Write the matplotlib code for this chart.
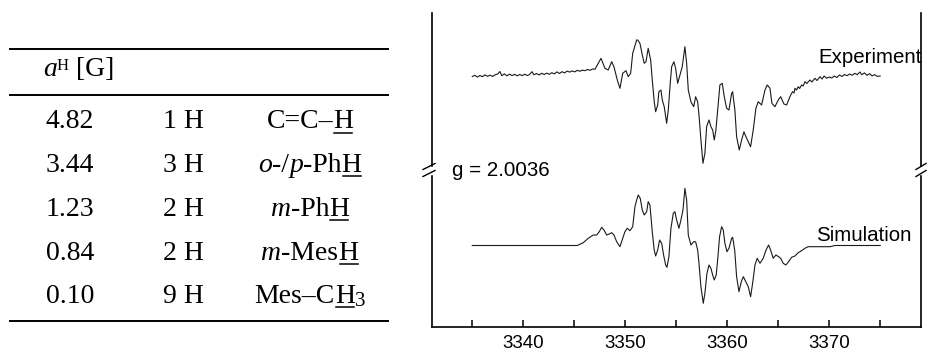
import matplotlib
matplotlib.use("Agg")
import matplotlib.pyplot as plt
from matplotlib.lines import Line2D
from matplotlib.patches import Rectangle
from matplotlib.transforms import IdentityTransform

# hyperfine table
a_values = ["4.82", "3.44", "1.23", "0.84", "0.10"]
n_protons = ["1 H", "3 H", "2 H", "2 H", "9 H"]

# EPR spectra, field in G, intensity in arbitrary units
exp_field = [3335.0, 3335.25, 3335.5, 3335.75, 3336.0, 3336.25, 3336.5, 3336.75, 3337.0, 3337.25,
             3337.5, 3337.7, 3337.9, 3338.15, 3338.4, 3338.65, 3338.9, 3339.15, 3339.4, 3339.65,
             3339.9, 3340.15, 3340.4, 3340.6, 3340.85, 3341.05, 3341.3, 3341.55, 3341.8, 3342.05,
             3342.3, 3342.55, 3342.8, 3343.05, 3343.3, 3343.55, 3343.8, 3344.05, 3344.3, 3344.55,
             3344.8, 3345.05, 3345.3, 3345.55, 3345.8, 3346.05, 3346.3, 3346.55, 3346.8, 3347.03,
             3347.62, 3348.01, 3348.33, 3348.67, 3348.89, 3349.22, 3349.48, 3349.75, 3350.07, 3350.29,
             3350.53, 3350.73, 3351.12, 3351.22, 3351.44, 3351.67, 3351.86, 3352.03, 3352.25, 3352.49,
             3352.65, 3352.84, 3352.98, 3353.18, 3353.30, 3353.50, 3353.63, 3353.82, 3354.06, 3354.22,
             3354.41, 3354.55, 3354.77, 3354.94, 3355.14, 3355.36, 3355.59, 3355.85, 3356.02, 3356.18,
             3356.44, 3356.71, 3356.90, 3357.10, 3357.23, 3357.42, 3357.62, 3357.81, 3357.98, 3358.21,
             3358.40, 3358.57, 3358.73, 3358.89, 3359.06, 3359.28, 3359.51, 3359.71, 3359.94, 3360.17,
             3360.43, 3360.53, 3360.75, 3360.92, 3361.18, 3361.41, 3361.64, 3361.83, 3362.06, 3362.29,
             3362.55, 3362.81, 3363.04, 3363.37, 3363.70, 3363.92, 3364.19, 3364.38, 3364.68, 3365.00,
             3365.24, 3365.56, 3365.82, 3366.15, 3366.3, 3366.41, 3366.55, 3366.64, 3366.8, 3366.96,
             3367.1, 3367.29, 3367.45, 3367.62, 3367.8, 3368.11, 3368.3, 3368.6, 3368.8, 3369.09,
             3369.3, 3369.5, 3369.75, 3370.0, 3370.25, 3370.5, 3370.75, 3371.0, 3371.25, 3371.5,
             3371.75, 3372.0, 3372.25, 3372.5, 3372.75, 3373.0, 3373.2, 3373.45, 3373.7, 3373.95,
             3374.2, 3374.45, 3374.7, 3375.0]
exp_int = [0.0, 1.2, -0.6, 1.0, -0.2, 1.6, 0.2, 1.4, 0.0, 1.8,
           2.5, 5.0, 0.8, 2.6, 0.6, 2.4, 0.9, 2.2, 0.7, 2.0,
           0.9, 2.3, 1.0, 1.8, 4.8, 1.8, 3.0, 1.6, 3.2, 2.0,
           3.4, 2.2, 3.8, 2.6, 4.6, 3.0, 4.8, 3.6, 5.4, 4.4,
           5.6, 4.6, 6.2, 5.2, 6.4, 5.8, 7.0, 6.2, 7.6, 7.2,
           18.2, 8.2, 6.5, 14.8, 9.8, -3.5, -11.8, 3.2, 5.8, -0.2,
           3.2, 23.2, 36.5, 36.5, 33.2, 21.5, 13.2, 14.8, 28.2, 16.5,
           -3.5, -25.2, -35.2, -28.5, -15.2, -13.5, -23.5, -30.2, -46.8, -33.5,
           -6.8, 9.8, 14.8, 8.2, -6.8, 1.5, 9.8, 29.8, 13.2, -13.5,
           -25.2, -30.2, -20.2, -25.2, -38.5, -63.5, -86.8, -76.8, -50.2, -43.5,
           -50.2, -53.5, -63.5, -53.5, -33.5, -8.5, -6.8, -20.2, -31.8, -33.5,
           -16.8, -15.2, -33.5, -60.2, -73.5, -63.5, -55.2, -60.2, -65.2, -70.2,
           -53.5, -31.8, -25.2, -28.5, -13.5, -8.5, -11.8, -26.8, -30.2, -23.5,
           -20.2, -27.5, -28.5, -20.2, -17.0, -15.2, -16.5, -11.8, -13.5, -10.2,
           -12.0, -8.5, -9.5, -5.2, -7.0, -3.5, -5.5, -1.8, -4.0, -0.2,
           -2.5, 0.5, -1.8, -0.5, -1.5, 0.5, -1.0, 1.5, 0.0, 2.0,
           0.8, 2.5, 1.2, 3.2, 1.8, 4.5, 1.8, 3.6, 1.2, 2.8,
           0.6, 1.8, 0.2, 0.5]

sim_field = [3335.0, 3345.29, 3345.88, 3346.37, 3346.86, 3347.20, 3347.45, 3347.69, 3347.91, 3348.18,
             3348.43, 3348.67, 3348.89, 3349.16, 3349.48, 3349.75, 3349.97, 3350.20, 3350.46, 3350.73,
             3350.95, 3351.12, 3351.27, 3351.47, 3351.67, 3351.86, 3352.10, 3352.25, 3352.42, 3352.65,
             3352.84, 3352.98, 3353.18, 3353.37, 3353.57, 3353.76, 3353.96, 3354.09, 3354.28, 3354.48,
             3354.71, 3354.87, 3355.04, 3355.26, 3355.46, 3355.66, 3355.85, 3356.02, 3356.18, 3356.44,
             3356.71, 3356.90, 3357.10, 3357.23, 3357.42, 3357.65, 3357.81, 3358.01, 3358.21, 3358.40,
             3358.57, 3358.73, 3358.92, 3359.06, 3359.25, 3359.45, 3359.61, 3359.77, 3359.97, 3360.17,
             3360.43, 3360.53, 3360.73, 3360.92, 3361.15, 3361.38, 3361.58, 3361.82, 3362.06, 3362.29,
             3362.49, 3362.72, 3362.94, 3363.21, 3363.53, 3363.80, 3364.06, 3364.25, 3364.51, 3364.77,
             3365.04, 3365.24, 3365.49, 3365.75, 3366.02, 3366.31, 3366.64, 3366.96, 3367.29, 3367.62,
             3367.94, 3370.07, 3370.56, 3375.0]
sim_int = [0.0, 0.0, 2.8, 7.2, 10.5, 10.5, 13.8, 18.2, 15.5, 10.5,
           11.5, 12.8, 10.5, 3.8, -1.2, 7.2, 13.8, 17.2, 14.8, 18.8,
           38.8, 45.5, 50.5, 47.2, 35.5, 30.5, 33.8, 43.8, 40.5, 13.8,
           -4.5, -10.5, -4.5, 5.5, 2.2, -9.5, -19.5, -21.8, -11.2, 17.2,
           32.2, 33.8, 25.5, 17.2, 25.5, 35.5, 57.2, 45.5, 10.5, 0.5,
           3.8, 3.8, -4.5, -17.8, -41.2, -57.8, -47.8, -27.8, -19.5, -22.8,
           -29.5, -34.5, -29.5, -14.5, 8.8, 18.8, 15.5, 2.2, -6.2, -2.8,
           7.2, 8.2, -4.5, -31.2, -46.2, -36.2, -31.2, -36.2, -41.2, -51.2,
           -37.8, -19.5, -12.8, -17.8, -12.8, -4.5, 0.5, -4.5, -12.8, -9.5,
           -11.2, -12.8, -17.8, -19.5, -16.2, -11.8, -10.5, -7.2, -5.2, -2.8,
           -1.2, -1.2, 0.0, 0.0]

W, H = 927, 353
SERIF = "Liberation Serif"
SANS = "Liberation Sans"
FS = 20

fig = plt.figure(figsize=(W / 100, H / 100), dpi=100)
px = IdentityTransform()
renderer = fig.canvas.get_renderer()


def hline(x0, x1, y, lw=1.4):
    fig.add_artist(Line2D([x0, x1], [H - y, H - y], color="black", lw=lw, transform=px))


def rich(x, y, parts, ha="center"):
    # parts: (text, style, size, dy, underline)
    widths = []
    for s, style, size, dy, ul in parts:
        t = fig.text(0, 0, s, fontsize=size, fontstyle=style, family=SERIF)
        widths.append(t.get_window_extent(renderer).width)
        t.remove()
    cur = x - sum(widths) / 2 if ha == "center" else x
    for (s, style, size, dy, ul), w in zip(parts, widths):
        fig.text(cur, H - y + dy, s, fontsize=size, fontstyle=style, family=SERIF,
                 ha="left", va="baseline", transform=px)
        if ul:
            fig.add_artist(Line2D([cur + 1, cur + w - 1], [H - y - 4, H - y - 4],
                                  color="black", lw=1.1, transform=px))
        cur += w


# ---- table ----
hline(10, 388, 49.3)
hline(10, 388, 95)
hline(10, 388, 321)

rich(43, 76.5, [("a", "italic", FS, 0, False), ("H", "normal", 12, 6.5, False),
                (" [G]", "normal", FS, 0, False)], ha="left")

baselines = [128.5, 172.2, 216, 259.7, 303.4]
n = ("normal", FS, 0, False)
it = ("italic", FS, 0, False)
u = ("normal", FS, 0, True)
col3 = [
    [("C=C\u2013",) + n, ("H",) + u],
    [("o",) + it, ("-/",) + n, ("p",) + it, ("-Ph",) + n, ("H",) + u],
    [("m",) + it, ("-Ph",) + n, ("H",) + u],
    [("m",) + it, ("-Mes",) + n, ("H",) + u],
    [("Mes\u2013C",) + n, ("H",) + u, ("3", "normal", 15, -3, False)],
]
for yb, a, nh, parts in zip(baselines, a_values, n_protons, col3):
    rich(70, yb, [(a,) + n])
    rich(183, yb, [(nh,) + n])
    rich(310, yb, parts)

# ---- spectrum ----
ax = fig.add_axes([432 / W, 26 / H, 489 / W, 314 / H])
ax.plot(exp_field, [v + 250.5 for v in exp_int], color="#1a1a1a", lw=0.8)
ax.plot(sim_field, [v + 81.5 for v in sim_int], color="#1a1a1a", lw=0.8)
ax.set_xlim(3331.05, 3379.0)
ax.set_ylim(0, 314)
ax.set_yticks([])
ax.set_xticks([3340, 3350, 3360, 3370])
ax.set_xticks([3335, 3345, 3355, 3365, 3375], minor=True)
ax.tick_params(axis="x", which="both", direction="in", length=5, width=1.1, pad=6,
               labelsize=13.5)
for lab in ax.get_xticklabels():
    lab.set_family(SANS)
ax.spines["top"].set_visible(False)
for s in ["left", "right", "bottom"]:
    ax.spines[s].set_linewidth(1.2)

fig.text(922, H - 62.7, "Experiment", family=SANS, fontsize=14.8, ha="right",
         va="baseline", transform=px)
fig.text(912, H - 241, "Simulation", family=SANS, fontsize=14.8, ha="right",
         va="baseline", transform=px)
fig.text(451.7, H - 176.5, "g = 2.0036", family=SANS, fontsize=14.8, ha="left",
         va="baseline", transform=px)

# axis break marks on both spines
for xs, (l, r) in [(432, (9, 3)), (921, (5, 5))]:
    fig.add_artist(Rectangle((xs - 2, H - 173.5), 4, 7, color="white", transform=px, zorder=10))
    for dy in (-3.5, 3.5):
        fig.add_artist(Line2D([xs - l, xs + r], [H - (170 + dy + 3), H - (170 + dy - 3)],
                              color="black", lw=1.0, transform=px, zorder=11))

fig.savefig("out.png", dpi=100)
